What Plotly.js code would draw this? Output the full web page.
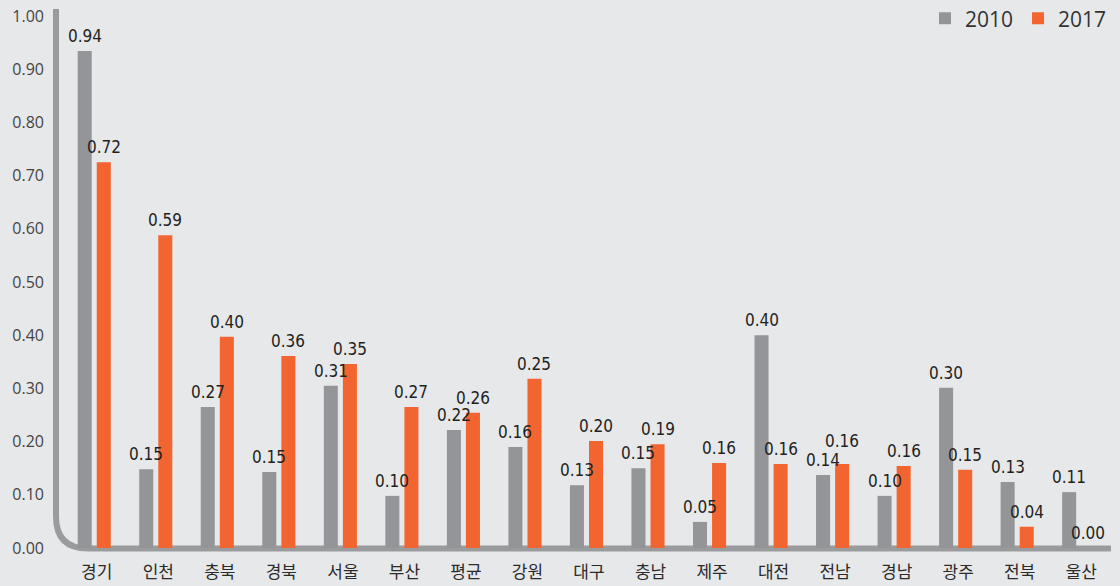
<!DOCTYPE html>
<html>
<head>
<meta charset="utf-8">
<script src="https://cdn.plot.ly/plotly-3.0.1.min.js"></script>
<style>html,body{margin:0;padding:0;background:#e7e8ea;}#chart{width:1120px;height:586px;}</style>
</head>
<body>
<div id="chart"></div>
<script>
const categories = ['경기','인천','충북','경북','서울','부산','평균','강원','대구','충남','제주','대전','전남','경남','광주','전북','울산'];
const values2010 = [0.934,0.148,0.265,0.143,0.305,0.098,0.222,0.190,0.118,0.150,0.049,0.400,0.137,0.098,0.301,0.124,0.105];
const values2017 = [0.725,0.588,0.397,0.361,0.346,0.265,0.254,0.318,0.201,0.195,0.160,0.158,0.158,0.154,0.147,0.040,0.000];
const labels2010 = ['0.94','0.15','0.27','0.15','0.31','0.10','0.22','0.16','0.13','0.15','0.05','0.40','0.14','0.10','0.30','0.13','0.11'];
const labels2017 = ['0.72','0.59','0.40','0.36','0.35','0.27','0.26','0.25','0.20','0.19','0.16','0.16','0.16','0.16','0.15','0.04','0.00'];
const yTicks = [0,0.1,0.2,0.3,0.4,0.5,0.6,0.7,0.8,0.9,1.0];
const yTickText = ['0.00','0.10','0.20','0.30','0.40','0.50','0.60','0.70','0.80','0.90','1.00'];

// ---- style constants ----
const W = 1120, H = 586, L = 66, R = 8, T = 16, B = 38;
const pw = W - L - R, ph = H - T - B;
const px = v => (v - L) / pw;
const py = v => (H - B - v) / ph;
const rad = 32, axX = 56, axY = 548.5;
const axisPath = 'M ' + px(axX) + ' ' + py(9) +
  ' L ' + px(axX) + ' ' + py(axY - rad) +
  ' Q ' + px(axX) + ' ' + py(axY) + ' ' + px(axX + rad) + ' ' + py(axY) +
  ' L ' + px(1111) + ' ' + py(axY);

const barW = 0.228, off2010 = -0.31, off2017 = 0.0;
const catPx = pw / categories.length;
const labelFont = {family: 'Liberation Sans Narrow, DejaVu Sans Condensed, Noto Sans, sans-serif', size: 17, color: '#231f20'};
const baseShift = 3;
const extraShift2017 = {'전남': 8};

const annotations = [];
categories.forEach((c, i) => {
  annotations.push({x: c, y: values2010[i], xref: 'x', yref: 'y', text: labels2010[i], showarrow: false,
    xanchor: 'center', yanchor: 'bottom', xshift: (off2010 + barW / 2) * catPx, yshift: baseShift,
    font: labelFont});
  annotations.push({x: c, y: values2017[i], xref: 'x', yref: 'y', text: labels2017[i], showarrow: false,
    xanchor: 'center', yanchor: 'bottom', xshift: (off2017 + barW / 2) * catPx,
    yshift: baseShift + (extraShift2017[c] || 0), font: labelFont});
});

const traces = [
  {type: 'bar', name: '2010', x: categories, y: values2010,
   marker: {color: '#949598'}, width: barW, offset: off2010, hoverinfo: 'none'},
  {type: 'bar', name: '2017', x: categories, y: values2017,
   marker: {color: '#f26531'}, width: barW, offset: off2017, hoverinfo: 'none'}
];

const layout = {
  width: W, height: H,
  margin: {l: L, r: R, t: T, b: B, pad: 0, autoexpand: false},
  paper_bgcolor: '#e7e8ea', plot_bgcolor: '#e7e8ea',
  barmode: 'overlay',
  showlegend: true,
  legend: {orientation: 'h', x: 1.0, xanchor: 'right', y: 0.995, yanchor: 'middle',
           font: {family: 'Open Sans, sans-serif', size: 21, color: '#333'},
           traceorder: 'normal', bgcolor: 'rgba(0,0,0,0)'},
  xaxis: {type: 'category', range: [-0.5, 16.5], showgrid: false, zeroline: false, showline: false,
          ticks: '', ticklabelstandoff: 12,
          tickfont: {family: 'Noto Sans CJK KR, sans-serif', size: 17, color: '#2b2b2b'}},
  yaxis: {range: [0, 1], tickvals: yTicks, ticktext: yTickText, showgrid: false, zeroline: false,
          showline: false, ticks: '', ticklabelstandoff: 21,
          tickfont: {family: 'Open Sans, sans-serif', size: 16, color: '#444'}},
  shapes: [{type: 'path', xref: 'paper', yref: 'paper', path: axisPath, layer: 'below',
            line: {color: '#9a9b9d', width: 6}}],
  annotations: annotations,
  font: {family: 'Open Sans, sans-serif'}
};

Plotly.newPlot('chart', traces, layout, {staticPlot: true, displayModeBar: false});
</script>
</body>
</html>
